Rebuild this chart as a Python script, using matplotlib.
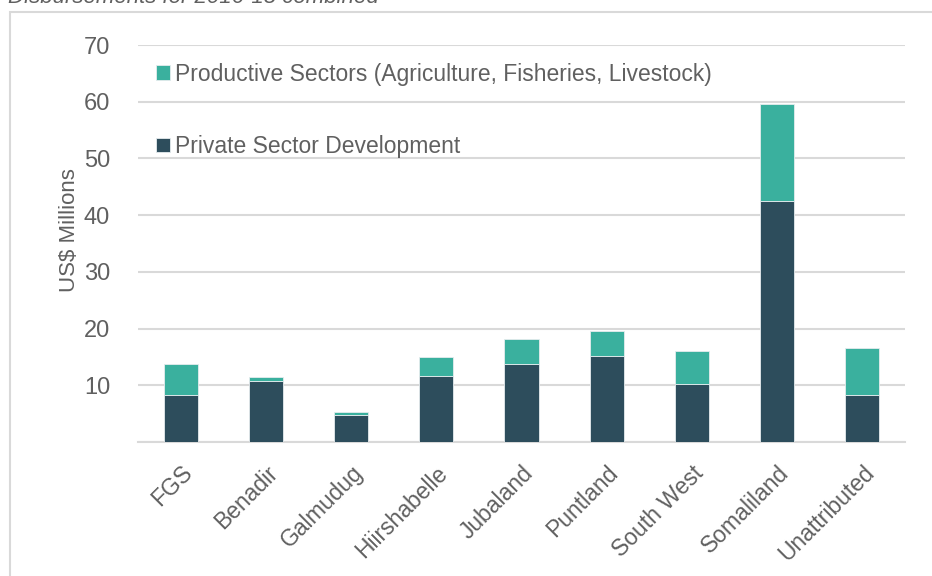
import numpy as np
import matplotlib.pyplot as plt
from matplotlib.patches import Rectangle

regions = ['FGS', 'Benadir', 'Galmudug', 'Hiirshabelle', 'Jubaland',
           'Puntland', 'South West', 'Somaliland', 'Unattributed']
private_sector = [8.3, 10.8, 4.8, 11.7, 13.8, 15.2, 10.3, 42.5, 8.3]
productive = [5.5, 0.7, 0.5, 3.2, 4.3, 4.4, 5.8, 17.1, 8.2]

dark = '#2d4d5c'
teal = '#3ab09e'
grey_txt = '#606060'

plt.rcParams['font.family'] = ['Liberation Sans', 'DejaVu Sans']

fig = plt.figure(figsize=(9.32, 5.76), dpi=100)
ax = fig.add_axes([138/932, 1 - 442/576, 767/932, 397/576])

x = np.arange(len(regions))
b1 = ax.bar(x, private_sector, width=0.4, color=dark, edgecolor='#e6ecee',
            linewidth=0.6, zorder=3)
b2 = ax.bar(x, productive, width=0.4, bottom=private_sector, color=teal,
            edgecolor='#e6ecee', linewidth=0.6, zorder=3)

ax.set_xlim(-0.5, 8.5)
ax.set_ylim(0, 70)
ax.set_yticks([0, 10, 20, 30, 40, 50, 60, 70])
ax.set_yticklabels(['', '10', '20', '30', '40', '50', '60', '70'])
ax.yaxis.grid(True, color='#d9d9d9', linewidth=1.5, zorder=0)
ax.set_axisbelow(True)
for s in ['top', 'right', 'left']:
    ax.spines[s].set_visible(False)
ax.spines['bottom'].set_color('#d9d9d9')
ax.spines['bottom'].set_linewidth(1.5)
ax.tick_params(axis='y', length=0, pad=20, labelsize=17, labelcolor=grey_txt)
ax.tick_params(axis='x', length=0, pad=14, labelsize=16.5, labelcolor=grey_txt)
ax.set_xticks(x)
ax.set_xticklabels(regions, rotation=45, ha='right', rotation_mode='anchor')
ax.set_ylabel('US$ Millions', fontsize=16, color=grey_txt)
ax.yaxis.set_label_coords((80 - 138) / 767, (442 - 230) / 397)

ax.legend([b2, b1], ['Productive Sectors (Agriculture, Fisheries, Livestock)',
                     'Private Sector Development'],
          loc='upper left', bbox_to_anchor=(0.006, 0.99), frameon=False,
          fontsize=16.5, labelcolor=grey_txt, handlelength=0.6,
          handleheight=0.6, handletextpad=0.2, labelspacing=2.15,
          borderaxespad=0.2)

# outer frame of the original panel
fig.patches.append(Rectangle((10/932, -0.05), 1.0, 1 - 12/576 + 0.05,
                             transform=fig.transFigure, fill=False,
                             edgecolor='#d9d9d9', linewidth=1.5))
fig.text(8/932, 1 - 3/576, 'Disbursements for 2016-18 combined',
         fontsize=16, style='italic', color=grey_txt, va='baseline')

fig.savefig('out.png', dpi=100)
